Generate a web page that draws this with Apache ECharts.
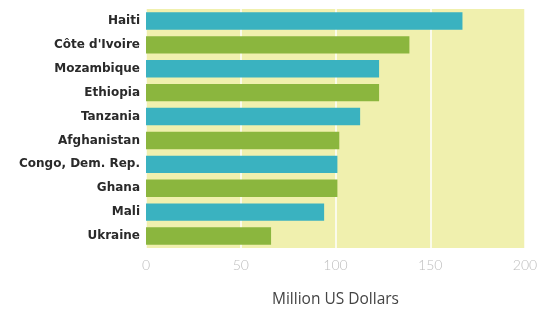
<!DOCTYPE html>
<html>
<head>
<meta charset="utf-8">
<script src="https://cdn.jsdelivr.net/npm/echarts@6/dist/echarts.min.js"></script>
<style>
  html, body { margin: 0; padding: 0; background: #fff; }
  #chart { width: 547px; height: 309px; }
</style>
</head>
<body>
<div id="chart"></div>
<script>
// data
var countries = ['Haiti', 'Côte d\'Ivoire', 'Mozambique', 'Ethiopia', 'Tanzania',
                 'Afghanistan', 'Congo, Dem. Rep.', 'Ghana', 'Mali', 'Ukraine'];
var amounts = [167, 139, 123, 123, 113, 102, 101, 101, 94, 66];
var ticks = [0, 50, 100, 150, 200];

var barColors = ['#3ab2c0', '#8bb63e'];

var myChart = echarts.init(document.getElementById('chart'));

var option = {
    animation: false,
    grid: {
        left: 146,
        right: 22,
        top: 9,
        bottom: 61,
        outerBoundsMode: 'none',
        show: true,
        backgroundColor: '#f0f0ae',
        borderWidth: 0
    },
    xAxis: {
        type: 'value',
        min: ticks[0],
        max: ticks[ticks.length - 1],
        interval: 50,
        name: 'Million US Dollars',
        nameLocation: 'middle',
        nameGap: 44,
        nameTextStyle: { color: '#444', fontSize: 15.5, fontFamily: 'Open Sans' },
        axisLine: { show: false },
        axisTick: { show: false },
        axisLabel: { color: '#bdbdbd', fontSize: 14, fontFamily: 'Lato', fontWeight: 300, margin: 10 },
        splitLine: { show: true, lineStyle: { color: '#ffffff', width: 1.5 } }
    },
    yAxis: {
        type: 'category',
        data: countries,
        inverse: true,
        axisLine: { show: false },
        axisTick: { show: false },
        axisLabel: { color: '#2a2a2a', fontSize: 12, fontWeight: 'bold', fontFamily: 'DejaVu Sans', margin: 6 }
    },
    series: [{
        type: 'bar',
        data: amounts,
        barCategoryGap: '27%',
        itemStyle: {
            color: function (p) { return barColors[p.dataIndex % 2]; }
        }
    }]
};

myChart.setOption(option);
</script>
</body>
</html>
